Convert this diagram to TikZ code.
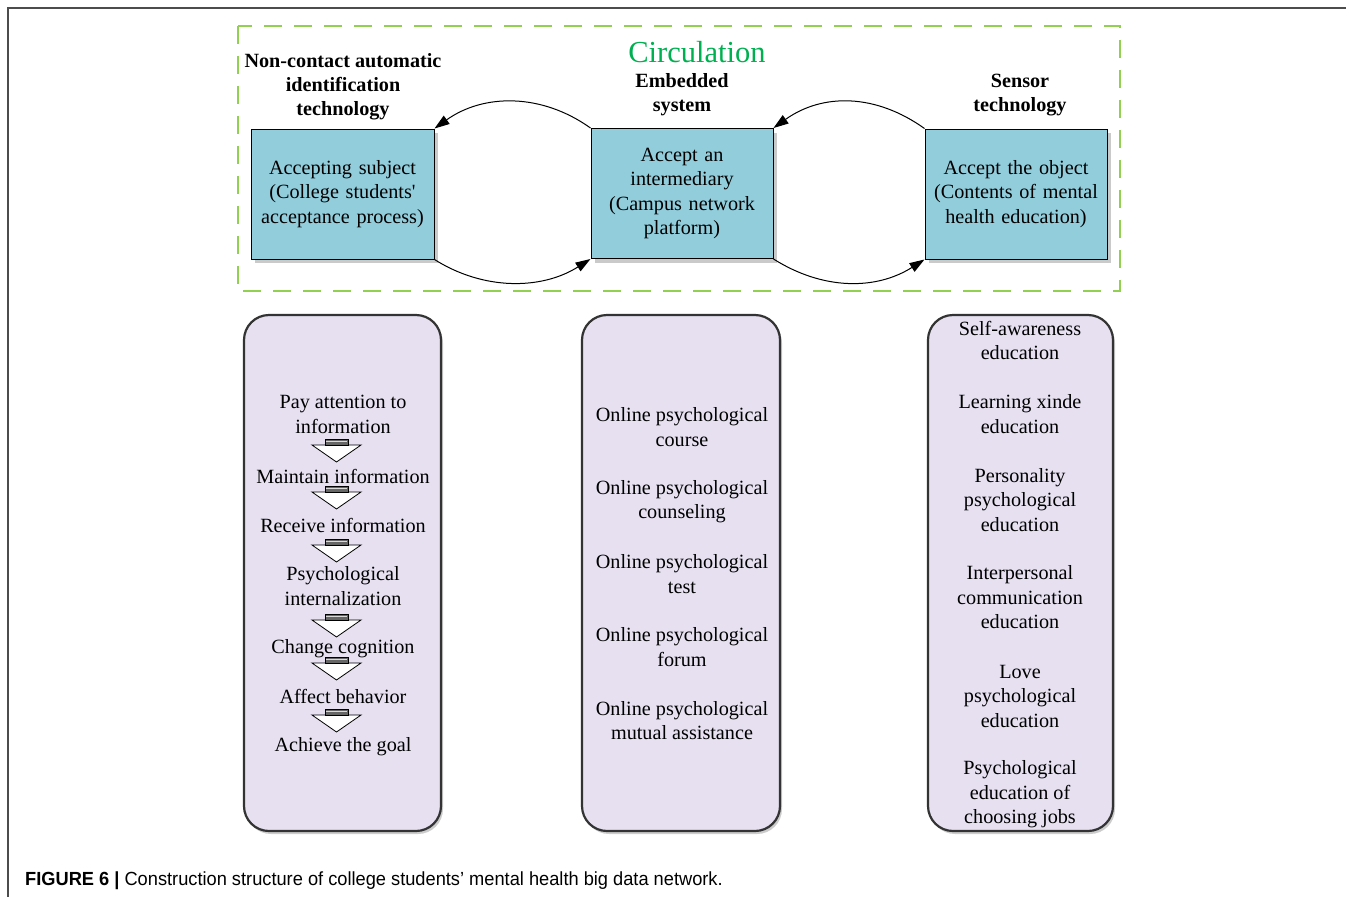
\documentclass[tikz,border=0pt]{standalone}
\usepackage{fontspec}
\setmainfont{Liberation Serif}
\newfontfamily\capfont{Liberation Sans}
\usetikzlibrary{arrows.meta,shadows}
\definecolor{boxblue}{RGB}{146,205,220}
\definecolor{lav}{RGB}{230,224,240}
\definecolor{dgreen}{RGB}{146,208,80}
\definecolor{cgreen}{RGB}{0,176,80}
\tikzset{
  frame/.style={draw=black!70, line width=1.5pt},
  circbox/.style={draw=dgreen, line width=2.5pt, dash pattern=on 18pt off 12pt},
  bluebox/.style={draw=black, line width=1pt, fill=boxblue, inner sep=0pt,
    minimum height=130pt, text width=175pt, align=center,
    font=\fontsize{20.2}{24.5}\selectfont,
    drop shadow={shadow xshift=4pt, shadow yshift=-4pt, fill=black!35, opacity=0.6}},
  panel/.style={draw=black!80, line width=2.2pt, fill=lav, rounded corners=25pt,
    inner sep=0pt, minimum height=516pt,
    drop shadow={shadow xshift=2pt, shadow yshift=-3pt, fill=black!40, opacity=0.5}},
  txt/.style={font=\fontsize{20.2}{24.5}\selectfont, align=center, inner sep=0pt},
  lbl/.style={font=\fontsize{20.2}{24}\selectfont\bfseries, align=center, inner sep=0pt},
  flow/.style={line width=1pt, -{Triangle[length=15pt,width=10pt]}},
  downarrow/.pic={
    \draw[black, fill=white, line width=0.8pt] (-24.5,6) -- (24.5,6) -- (0,23) -- cycle;
    \draw[black, fill=black!60, line width=0.8pt] (-11.5,0) rectangle (11.5,6);
    \draw[black!15, line width=1.3pt] (-10.5,2.6) -- (10.5,2.6);
  }
}
\begin{document}
\begin{tikzpicture}[x=1pt, y=-1pt]
\useasboundingbox (0,0) rectangle (1346,897);
\draw[frame] (1346,8) -- (8,8) -- (8,897);

% circulation frame
\draw[circbox] (238,26) rectangle (1120,291);
\node[font=\fontsize{30.5}{34}\selectfont, text=cgreen, inner sep=0pt] (circ) at (697,52) {Circulation};

% labels
\node[lbl] (l1) at (343,87) {Non-contact automatic\\identification\\technology};
\node[lbl] (l2) at (682,95) {Embedded\\system};
\node[lbl] (l3) at (1020,95) {Sensor\\technology};

% blue boxes
\node[bluebox, minimum width=183pt] (b1) at (342.5,194) {Accepting subject\\(College students\textquotesingle\\acceptance process)};
\node[bluebox, minimum width=182pt] (b2) at (682,193.5) {Accept an\\intermediary\\(Campus network\\platform)};
\node[bluebox, minimum width=182pt] (b3) at (1016,194) {Accept the object\\(Contents of mental\\health education)};

% circulation arrows
\draw[flow] (b2.north west) .. controls +(-49,-35) and +(49,-35) .. (b1.north east);
\draw[flow] (b1.south east) .. controls +(49,31) and +(-49,31) .. (b2.south west);
\draw[flow] (b3.north west) .. controls +(-49,-35) and +(49,-35) .. (b2.north east);
\draw[flow] (b2.south east) .. controls +(49,31) and +(-49,31) .. (b3.south west);

% panels
\node[panel, minimum width=197pt] (p1) at (342.5,573) {};
\node[panel, minimum width=198pt] (p2) at (681,573) {};
\node[panel, minimum width=185pt] (p3) at (1020.5,573) {};

% left column
\node[txt] (a1) at (343,414.5) {Pay attention to\\information};
\node[txt] (a2) at (343,476) {Maintain information};
\node[txt] (a3) at (343,525) {Receive information};
\node[txt] (a4) at (343,586) {Psychological\\internalization};
\node[txt] (a5) at (343,649) {Change cognition};
\node[txt] (a6) at (343,696) {Affect behavior};
\node[txt] (a7) at (343,747) {Achieve the goal};
\pic at (336.5,439) {downarrow};
\pic at (336.5,486) {downarrow};
\pic at (336.5,539) {downarrow};
\pic at (336.5,614) {downarrow};
\pic at (336.5,657) {downarrow};
\pic at (336.5,709) {downarrow};

% middle column
\node[txt] (m1) at (682,427) {Online psychological\\course};
\node[txt] (m2) at (682,501.5) {Online psychological\\counseling};
\node[txt] (m3) at (682,574) {Online psychological\\test};
\node[txt] (m4) at (682,647) {Online psychological\\forum};
\node[txt] (m5) at (682,720.5) {Online psychological\\mutual assistance};

% right column
\node[txt] (r1) at (1020,340.5) {Self-awareness\\education};
\node[txt] (r2) at (1020,414) {Learning xinde\\education};
\node[txt] (r3) at (1020,500) {Personality\\psychological\\education};
\node[txt] (r4) at (1020,597.5) {Interpersonal\\communication\\education};
\node[txt] (r5) at (1020,696) {Love\\psychological\\education};
\node[txt] (r6) at (1020,794.5) {Psychological\\education of\\choosing jobs};

% caption
\node[anchor=west, inner sep=0pt, font=\capfont\fontsize{19}{22}\selectfont] (cap) at (25,881)
  {\scalebox{0.96}[1]{\textbf{FIGURE 6 |} Construction structure of college students’ mental health big data network.}};
\end{tikzpicture}
\end{document}
